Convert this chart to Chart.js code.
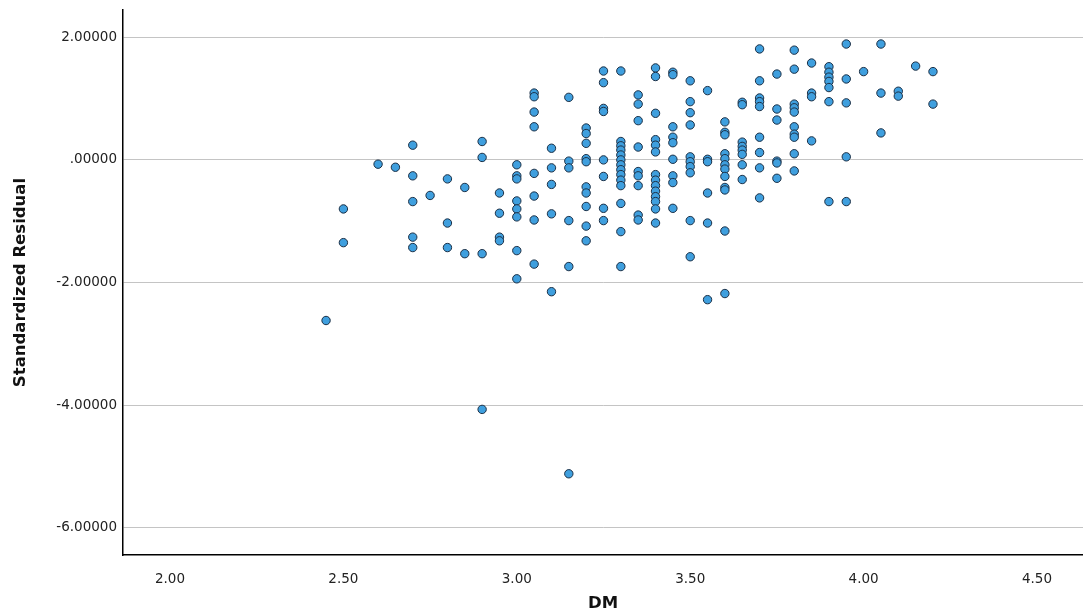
<!DOCTYPE html>
<html lang="en">
<head>
<meta charset="UTF-8">
<title>Standardized Residual vs DM</title>
<script src="https://cdn.jsdelivr.net/npm/chart.js@4.4.0/dist/chart.umd.min.js"></script>
<style>
  * { margin:0; padding:0; box-sizing:border-box; }
  html, body { background:#fff; width:1083px; height:616px; overflow:hidden; }
  canvas { display:block; }
</style>
</head>
<body>
<canvas id="scatter" width="1083" height="616"></canvas>

<script>
// DM levels (x) and the standardized residuals observed at each level (y)
const dmLevels = [2.45, 2.50, 2.60, 2.65, 2.70, 2.75, 2.80, 2.85, 2.90, 2.95,
                  3.00, 3.05, 3.10, 3.15, 3.20, 3.25, 3.30, 3.35, 3.40, 3.45,
                  3.50, 3.55, 3.60, 3.65, 3.70, 3.75, 3.80, 3.85, 3.90, 3.95,
                  4.00, 4.05, 4.10, 4.15, 4.20];

const residualsByLevel = [
  [-2.62],
  [-0.80, -1.35],
  [-0.07],
  [-0.12],
  [0.24, -0.26, -0.68, -1.26, -1.43],
  [-0.58],
  [-0.31, -1.03, -1.43],
  [-0.45, -1.53],
  [0.30, 0.04, -1.53, -4.07],
  [-0.54, -0.87, -1.26, -1.32],
  [-0.08, -0.26, -0.31, -0.67, -0.80, -0.93, -1.48, -1.94],
  [1.09, 1.03, 0.78, 0.54, -0.22, -0.59, -0.98, -1.70],
  [0.19, -0.13, -0.40, -0.88, -2.15],
  [1.02, -0.02, -0.13, -0.99, -1.74, -5.12],
  [0.52, 0.43, 0.27, 0.02, -0.03, -0.44, -0.54, -0.76, -1.08, -1.32],
  [1.45, 1.26, 0.84, 0.79, 0.00, -0.27, -0.79, -0.99],
  [1.45, 0.30, 0.23, 0.16, 0.08, 0.00, -0.08, -0.16, -0.24, -0.33, -0.42, -0.71, -1.17, -1.74],
  [1.06, 0.91, 0.64, 0.21, -0.19, -0.26, -0.42, -0.90, -0.98],
  [1.50, 1.36, 0.76, 0.33, 0.24, 0.13, -0.24, -0.33, -0.42, -0.51, -0.60, -0.68, -0.80, -1.03],
  [1.43, 1.39, 0.54, 0.37, 0.28, 0.01, -0.26, -0.37, -0.79],
  [1.29, 0.95, 0.77, 0.57, 0.05, -0.03, -0.11, -0.21, -0.99, -1.58],
  [1.13, 0.01, -0.03, -0.54, -1.03, -2.28],
  [0.62, 0.45, 0.41, 0.10, 0.02, -0.08, -0.15, -0.27, -0.45, -0.49, -1.16, -2.18],
  [0.94, 0.90, 0.29, 0.22, 0.16, 0.09, -0.08, -0.32],
  [1.81, 1.29, 1.01, 0.95, 0.87, 0.37, 0.12, -0.13, -0.62],
  [1.40, 0.83, 0.65, -0.02, -0.05, -0.30],
  [1.79, 1.48, 0.91, 0.85, 0.78, 0.54, 0.42, 0.37, 0.10, -0.18],
  [1.58, 1.09, 1.03, 0.31],
  [1.52, 1.43, 1.35, 1.28, 1.18, 0.95, -0.68],
  [1.89, 1.32, 0.93, 0.05, -0.68],
  [1.44],
  [1.89, 1.09, 0.44],
  [1.12, 1.04],
  [1.53],
  [1.44, 0.91]
];

const xTicks = [2.00, 2.50, 3.00, 3.50, 4.00, 4.50];
const yTicks = [-6, -4, -2, 0, 2];

const points = [];
dmLevels.forEach((dm, i) => {
  residualsByLevel[i].forEach(r => points.push({ x: dm, y: r }));
});

const tickFont = { family: "'DejaVu Sans', sans-serif", size: 13.5 };
const titleFont = { family: "'DejaVu Sans', sans-serif", size: 16.5, weight: 'bold' };

new Chart(document.getElementById('scatter').getContext('2d'), {
  type: 'scatter',
  data: {
    datasets: [{
      label: 'Standardized Residual',
      data: points,
      backgroundColor: '#3f9fde',
      borderColor: '#1b2f45',
      borderWidth: 1,
      pointRadius: 4.2,
      pointHoverRadius: 4.2
    }]
  },
  options: {
    responsive: false,
    animation: false,
    layout: { autoPadding: false, padding: { top: 10, right: 0, left: 0, bottom: 0 } },
    plugins: { legend: { display: false }, tooltip: { enabled: false } },
    scales: {
      x: {
        type: 'linear',
        min: 1.8645,
        max: 4.6326,
        afterBuildTicks: s => { s.ticks = xTicks.map(v => ({ value: v })); },
        afterFit: s => { s.height = 61; s.paddingLeft = 0; s.paddingRight = 0; },
        grid: { display: false },
        border: { display: true, color: '#000', width: 1.5 },
        ticks: { color: '#222', font: tickFont, padding: 8, callback: v => Number(v).toFixed(2) },
        title: { display: true, text: 'DM', color: '#111', font: titleFont, padding: { top: 0, bottom: 2 } }
      },
      y: {
        type: 'linear',
        min: -6.445,
        max: 2.445,
        afterBuildTicks: s => { s.ticks = yTicks.map(v => ({ value: v })); },
        afterFit: s => { s.width = 123; s.paddingTop = 0; s.paddingBottom = 0; },
        grid: { color: '#c4c4c4', lineWidth: 1, drawTicks: false },
        border: { display: true, color: '#000', width: 1.5 },
        ticks: { color: '#222', font: tickFont, padding: 6,
                 callback: v => v === 0 ? '.00000' : Number(v).toFixed(5) },
        title: { display: true, text: 'Standardized Residual', color: '#111', font: titleFont, padding: { top: 11, bottom: 0 } }
      }
    }
  }
});
</script>
</body>
</html>
